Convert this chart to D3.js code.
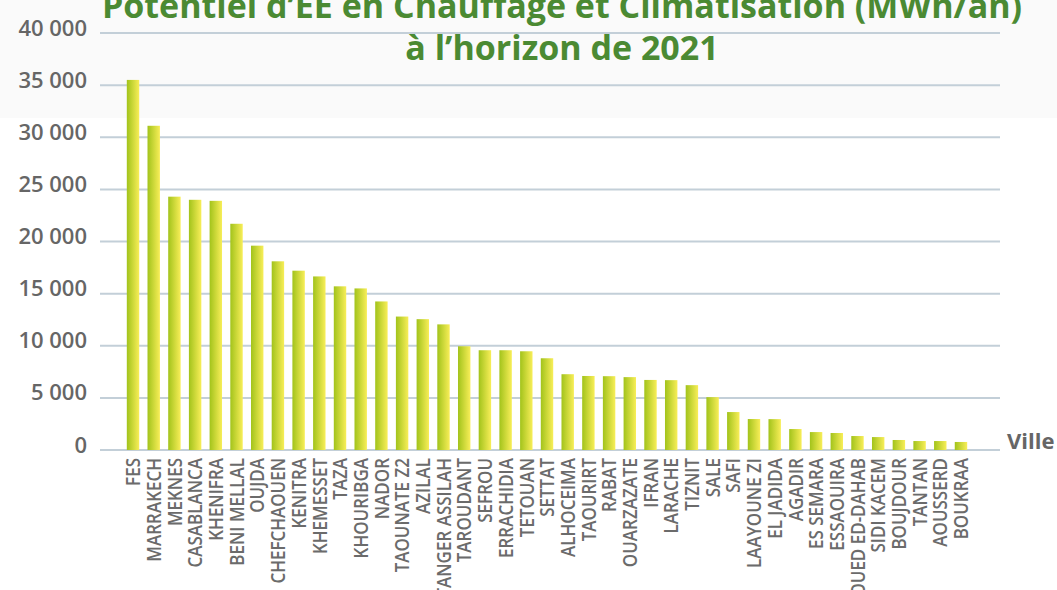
<!DOCTYPE html>
<html>
<head>
<meta charset="utf-8">
<script src="https://cdn.jsdelivr.net/npm/d3@7"></script>
<style>
  body { margin: 0; background: #ffffff; }
  svg { display: block; }
</style>
</head>
<body>
<svg id="chart" width="1057" height="590"></svg>
<script>
/* Potentiel d'EE par ville - bar chart */

const villes = [
  "FES", "MARRAKECH", "MEKNES", "CASABLANCA", "KHENIFRA", "BENI MELLAL", "OUJDA",
  "CHEFCHAOUEN", "KENITRA", "KHEMESSET", "TAZA", "KHOURIBGA", "NADOR", "TAOUNATE Z2",
  "AZILAL", "TANGER ASSILAH", "TAROUDANT", "SEFROU", "ERRACHIDIA", "TETOUAN", "SETTAT",
  "ALHOCEIMA", "TAOURIRT", "RABAT", "OUARZAZATE", "IFRAN", "LARACHE", "TIZNIT", "SALE",
  "SAFI", "LAAYOUNE ZI", "EL JADIDA", "AGADIR", "ES SEMARA", "ESSAOUIRA", "OUED ED-DAHAB",
  "SIDI KACEM", "BOUJDOUR", "TANTAN", "AOUSSERD", "BOUKRAA"
];

const potentiel = [
  35500, 31100, 24300, 24000, 23900, 21700, 19600,
  18100, 17200, 16650, 15700, 15500, 14250, 12800,
  12550, 12050, 9950, 9570, 9570, 9470, 8800,
  7270, 7100, 7080, 6990, 6720, 6700, 6220, 5070,
  3640, 2970, 2960, 2010, 1720, 1630, 1340,
  1240, 960, 860, 860, 770
];

const yTicks = [0, 5000, 10000, 15000, 20000, 25000, 30000, 35000, 40000];

const titleLines = [
  "Potentiel d’EE en Chauffage et Climatisation (MWh/an)",
  "à l’horizon de 2021"
];

const svg = d3.select("#chart");

const gridLeft = 100,
  gridRight = 1000;

const x = d3
  .scaleBand()
  .domain(villes)
  .range([120.6, 973.4])
  .paddingInner(0.4)
  .paddingOuter(0.3);

const y = d3.scaleLinear().domain([0, 40000]).range([450, 33]);

// light band behind the title
svg
  .append("rect")
  .attr("x", 0)
  .attr("y", 0)
  .attr("width", 1057)
  .attr("height", 118)
  .attr("fill", "#fafafa");

// bar gradient (green -> yellow, left to right)
const grad = svg
  .append("defs")
  .append("linearGradient")
  .attr("id", "barGrad")
  .attr("x1", "0%")
  .attr("x2", "100%")
  .attr("y1", "0%")
  .attr("y2", "0%");
grad.append("stop").attr("offset", "0%").attr("stop-color", "#a2c31b");
grad.append("stop").attr("offset", "100%").attr("stop-color", "#f8ee58");

// gridlines
svg
  .append("g")
  .attr("class", "grid")
  .selectAll("line")
  .data(yTicks)
  .join("line")
  .attr("x1", gridLeft)
  .attr("x2", gridRight)
  .attr("y1", (d) => y(d))
  .attr("y2", (d) => y(d))
  .attr("stroke", "#c3cfd8")
  .attr("stroke-width", 2);

// y axis labels
const yAxis = d3
  .axisLeft(y)
  .tickValues(yTicks)
  .tickSize(0)
  .tickPadding(0)
  .tickFormat((d) => d3.format(",")(d).replace(",", " "));

const yG = svg
  .append("g")
  .attr("transform", "translate(87,-5)")
  .call(yAxis);
yG.select(".domain").remove();
yG.selectAll("text")
  .attr("fill", "#666666")
  .attr("font-family", "'Open Sans', sans-serif")
  .attr("font-weight", 600)
  .attr("font-size", 22);

// bars
svg
  .append("g")
  .selectAll("rect")
  .data(potentiel)
  .join("rect")
  .attr("x", (d, i) => x(villes[i]))
  .attr("y", (d) => y(d))
  .attr("width", x.bandwidth())
  .attr("height", (d) => y(0) - y(d))
  .attr("fill", "url(#barGrad)");

// x axis labels (rotated)
const xAxis = d3.axisBottom(x).tickSize(0).tickPadding(0);
const xG = svg.append("g").attr("transform", "translate(0,458)").call(xAxis);
xG.select(".domain").remove();
xG.selectAll("text")
  .attr("fill", "#6b6b6b")
  .attr("font-family", "'Open Sans', sans-serif")
  .attr("font-weight", 600)
  .attr("font-size", 20)
  .attr("text-anchor", "end")
  .attr("dy", "0.36em")
  .attr("y", 0)
  .attr("transform", "rotate(-90) scale(0.85,1)");

svg
  .append("text")
  .attr("x", 1007)
  .attr("y", 449)
  .attr("fill", "#666666")
  .attr("font-family", "'Open Sans', sans-serif")
  .attr("font-weight", "bold")
  .attr("font-size", 22)
  .text("Ville");

// title
svg
  .append("g")
  .selectAll("text")
  .data(titleLines)
  .join("text")
  .attr("x", 562)
  .attr("y", (d, i) => 18 + i * 42)
  .attr("text-anchor", "middle")
  .attr("fill", "#4b8a33")
  .attr("font-family", "'Open Sans', sans-serif")
  .attr("font-weight", "bold")
  .attr("font-size", 34)
  .text((d) => d);
</script>
</body>
</html>
